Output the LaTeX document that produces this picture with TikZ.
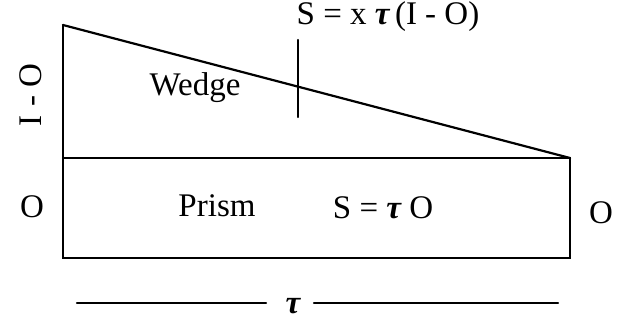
\documentclass[tikz,border=0pt]{standalone}
\usepackage{fontspec}
\setmainfont{Liberation Serif}
\newcommand{\mytau}{{\bfseries\itshape τ}}
\begin{document}
\begin{tikzpicture}[x=1pt,y=-1pt,
  edge/.style={line width=2.2pt,line cap=round,line join=miter},
  lbl/.style={font=\fontsize{33}{33}\selectfont,inner sep=0pt}]
\useasboundingbox (0,0) rectangle (618,323);
\coordinate (tl) at (63,25);
\coordinate (ml) at (63,158);
\coordinate (mr) at (570,158);
\coordinate (bl) at (63,258);
\coordinate (br) at (570,258);
\coordinate (ttop) at (298,40);
\coordinate (tbot) at (298,117);
\draw[edge] (tl) -- (ml) -- (bl) -- (br) -- (mr) -- (ml);
\draw[edge] (tl) -- (mr);
\draw[edge] (ttop) -- (tbot);
\node[lbl] (sw) at (388,17) {S = x \mytau\,(I - O)};
\node[lbl] (wedge) at (195,88) {Wedge};
\node[lbl] (prism) at (217,206) {Prism};
\node[lbl] (sp) at (383,208) {S = \mytau\ O};
\node[lbl,rotate=90] (io) at (31,95) {I - O};
\node[lbl] (ol) at (32,207) {O};
\node[lbl] (or) at (601,213) {O};
\node[lbl] (tau) at (293,306) {\mytau};
\coordinate (a1) at (77,303);
\coordinate (b1) at (266,303);
\coordinate (a2) at (558,303);
\coordinate (b2) at (314,303);
\draw[edge] (a1) -- (b1);
\draw[edge] (b2) -- (a2);
\end{tikzpicture}
\end{document}
